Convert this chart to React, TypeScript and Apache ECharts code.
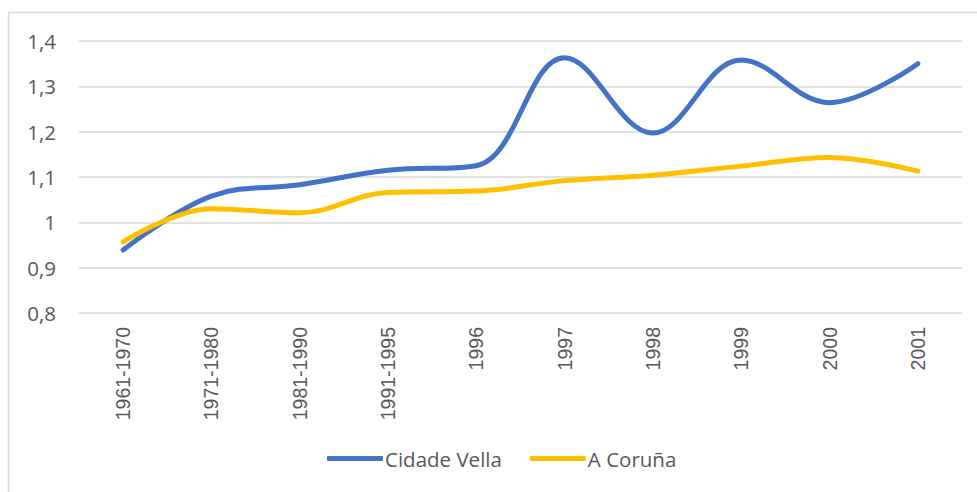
import React, { useEffect, useRef } from "react";
import * as echarts from "echarts";

const categories = ["1961-1970", "1971-1980", "1981-1990", "1991-1995", "1996", "1997", "1998", "1999", "2000", "2001"];
const cidadeVella = [0.939, 1.058, 1.083, 1.115, 1.125, 1.363, 1.197, 1.358, 1.264, 1.35];
const aCoruna = [0.957, 1.03, 1.021, 1.066, 1.069, 1.092, 1.104, 1.124, 1.143, 1.113];
const seriesNames = ["Cidade Vella", "A Coruña"];

export default function App() {
  const ref = useRef<HTMLDivElement>(null);
  useEffect(() => {
    if (!ref.current) return;
    const chart = echarts.init(ref.current, null, { renderer: "svg" });
    chart.setOption({
      animation: false,
      backgroundColor: "#ffffff",
      graphic: [
        {
          type: "rect",
          shape: { x: 8.5, y: 12.5, width: 1100, height: 600 },
          style: { fill: "none", stroke: "#D9D9D9", lineWidth: 1.5 },
          silent: true,
          z: -10,
        },
      ],
      grid: { left: 79, right: 15, top: 41, bottom: 179, containLabel: false },
      legend: {
        bottom: 18,
        left: 322,
        itemWidth: 56,
        itemHeight: 5,
        itemGap: 28,
        icon: "roundRect",
        textStyle: { fontFamily: "Open Sans", fontSize: 20.5, color: "#595959", padding: [0, 0, 0, -3] },
        data: seriesNames,
      },
      xAxis: {
        type: "category",
        data: categories,
        boundaryGap: true,
        axisLine: { show: false },
        axisTick: { show: false },
        axisLabel: { rotate: 90, margin: 14, fontFamily: "Liberation Sans", fontSize: 19.5, color: "#595959" },
      },
      yAxis: {
        type: "value",
        min: 0.8,
        max: 1.4,
        interval: 0.1,
        axisLine: { show: false },
        axisTick: { show: false },
        splitLine: { lineStyle: { color: "#D9D9D9", width: 1.5 } },
        axisLabel: {
          margin: 23,
          fontFamily: "Open Sans",
          fontSize: 20.5,
          color: "#595959",
          formatter: (v: number) => {
            const r = Math.round(v * 10) / 10;
            return r === 1 ? "1" : r.toFixed(1).replace(".", ",");
          },
        },
      },
      series: [
        {
          name: seriesNames[0],
          type: "line",
          data: cidadeVella,
          smooth: 0.38,
          symbol: "none",
          lineStyle: { color: "#4472C4", width: 5, cap: "round" },
          itemStyle: { color: "#4472C4" },
        },
        {
          name: seriesNames[1],
          type: "line",
          data: aCoruna,
          smooth: 0.38,
          symbol: "none",
          lineStyle: { color: "#FFC000", width: 5, cap: "round" },
          itemStyle: { color: "#FFC000" },
        },
      ],
    });
    return () => chart.dispose();
  }, []);
  return <div ref={ref} style={{ position: "fixed", left: 0, top: 0, width: 977, height: 492 }} />;
}
